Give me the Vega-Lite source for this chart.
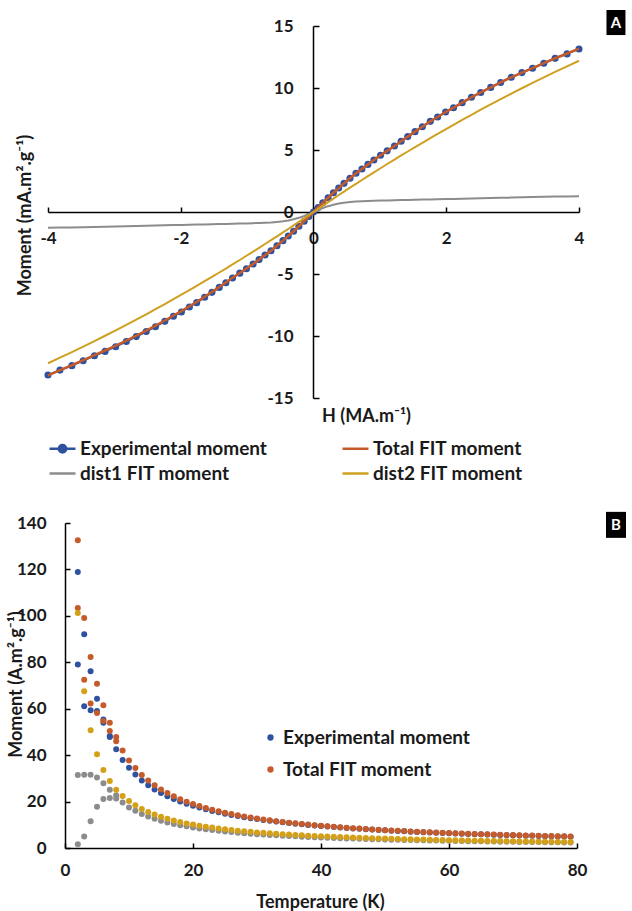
{
  "$schema": "https://vega.github.io/schema/vega-lite/v6.json",
  "padding": {"left": 7, "top": 10, "right": 0, "bottom": 0},
  "background": "white",
  "spacing": 27,
  "config": {
    "view": {"stroke": null},
    "font": "Lato",
    "axis": {"grid": false, "domain": true, "domainColor": "#000000", "domainWidth": 1.5, "labelFont": "Lato", "labelFontSize": 17, "labelFontWeight": "bold", "labelColor": "#1a1a1a", "titleFont": "Lato", "titleFontSize": 18, "titleFontWeight": "bold", "titleColor": "#1a1a1a", "tickColor": "#000000", "tickWidth": 1.5, "labelFlush": false, "labelOverlap": false}
  },
  "resolve": {"scale": {"color": "independent", "x": "independent", "y": "independent"}, "legend": {"color": "independent"}},
  "datasets": {
    "hyst": [
      {"H":-4,"M":-13.15,"s":"exp"},{"H":-3.82,"M":-12.75,"s":"exp"},{"H":-3.64,"M":-12.39,"s":"exp"},{"H":-3.47,"M":-11.99,"s":"exp"},{"H":-3.3,"M":-11.59,"s":"exp"},{"H":-3.14,"M":-11.24,"s":"exp"},{"H":-2.98,"M":-10.86,"s":"exp"},{"H":-2.82,"M":-10.45,"s":"exp"},{"H":-2.67,"M":-10.05,"s":"exp"},{"H":-2.52,"M":-9.64,"s":"exp"},{"H":-2.38,"M":-9.25,"s":"exp"},{"H":-2.24,"M":-8.82,"s":"exp"},{"H":-2.11,"M":-8.41,"s":"exp"},{"H":-1.99,"M":-8.06,"s":"exp"},{"H":-1.87,"M":-7.66,"s":"exp"},{"H":-1.76,"M":-7.31,"s":"exp"},{"H":-1.64,"M":-6.88,"s":"exp"},{"H":-1.53,"M":-6.48,"s":"exp"},{"H":-1.42,"M":-6.08,"s":"exp"},{"H":-1.32,"M":-5.7,"s":"exp"},{"H":-1.22,"M":-5.32,"s":"exp"},{"H":-1.11,"M":-4.93,"s":"exp"},{"H":-1.01,"M":-4.57,"s":"exp"},{"H":-0.91,"M":-4.2,"s":"exp"},{"H":-0.82,"M":-3.84,"s":"exp"},{"H":-0.73,"M":-3.47,"s":"exp"},{"H":-0.64,"M":-3.12,"s":"exp"},{"H":-0.55,"M":-2.72,"s":"exp"},{"H":-0.46,"M":-2.31,"s":"exp"},{"H":-0.38,"M":-1.93,"s":"exp"},{"H":-0.3,"M":-1.55,"s":"exp"},{"H":-0.22,"M":-1.15,"s":"exp"},{"H":-0.14,"M":-0.74,"s":"exp"},{"H":-0.07,"M":-0.37,"s":"exp"},{"H":0,"M":0,"s":"exp"},{"H":0.07,"M":0.37,"s":"exp"},{"H":0.14,"M":0.74,"s":"exp"},{"H":0.22,"M":1.15,"s":"exp"},{"H":0.3,"M":1.55,"s":"exp"},{"H":0.38,"M":1.93,"s":"exp"},{"H":0.46,"M":2.31,"s":"exp"},{"H":0.55,"M":2.72,"s":"exp"},{"H":0.64,"M":3.12,"s":"exp"},{"H":0.73,"M":3.47,"s":"exp"},{"H":0.82,"M":3.84,"s":"exp"},{"H":0.91,"M":4.2,"s":"exp"},{"H":1.01,"M":4.57,"s":"exp"},{"H":1.11,"M":4.93,"s":"exp"},{"H":1.22,"M":5.32,"s":"exp"},{"H":1.32,"M":5.7,"s":"exp"},{"H":1.42,"M":6.08,"s":"exp"},{"H":1.53,"M":6.48,"s":"exp"},{"H":1.64,"M":6.88,"s":"exp"},{"H":1.76,"M":7.31,"s":"exp"},{"H":1.87,"M":7.66,"s":"exp"},{"H":1.99,"M":8.06,"s":"exp"},{"H":2.11,"M":8.41,"s":"exp"},{"H":2.24,"M":8.82,"s":"exp"},{"H":2.38,"M":9.25,"s":"exp"},{"H":2.52,"M":9.64,"s":"exp"},{"H":2.67,"M":10.05,"s":"exp"},{"H":2.82,"M":10.45,"s":"exp"},{"H":2.98,"M":10.86,"s":"exp"},{"H":3.14,"M":11.24,"s":"exp"},{"H":3.3,"M":11.59,"s":"exp"},{"H":3.47,"M":11.99,"s":"exp"},{"H":3.64,"M":12.39,"s":"exp"},{"H":3.82,"M":12.75,"s":"exp"},{"H":4,"M":13.15,"s":"exp"},
      {"H":-4,"M":-13.18,"s":"fit"},{"H":-3.82,"M":-12.76,"s":"fit"},{"H":-3.64,"M":-12.36,"s":"fit"},{"H":-3.47,"M":-11.95,"s":"fit"},{"H":-3.3,"M":-11.54,"s":"fit"},{"H":-3.14,"M":-11.17,"s":"fit"},{"H":-2.98,"M":-10.78,"s":"fit"},{"H":-2.82,"M":-10.37,"s":"fit"},{"H":-2.67,"M":-9.97,"s":"fit"},{"H":-2.52,"M":-9.56,"s":"fit"},{"H":-2.38,"M":-9.17,"s":"fit"},{"H":-2.24,"M":-8.75,"s":"fit"},{"H":-2.11,"M":-8.35,"s":"fit"},{"H":-1.99,"M":-7.99,"s":"fit"},{"H":-1.87,"M":-7.6,"s":"fit"},{"H":-1.76,"M":-7.25,"s":"fit"},{"H":-1.64,"M":-6.83,"s":"fit"},{"H":-1.53,"M":-6.44,"s":"fit"},{"H":-1.42,"M":-6.05,"s":"fit"},{"H":-1.32,"M":-5.68,"s":"fit"},{"H":-1.22,"M":-5.3,"s":"fit"},{"H":-1.11,"M":-4.92,"s":"fit"},{"H":-1.01,"M":-4.56,"s":"fit"},{"H":-0.91,"M":-4.2,"s":"fit"},{"H":-0.82,"M":-3.84,"s":"fit"},{"H":-0.73,"M":-3.47,"s":"fit"},{"H":-0.64,"M":-3.12,"s":"fit"},{"H":-0.55,"M":-2.72,"s":"fit"},{"H":-0.46,"M":-2.31,"s":"fit"},{"H":-0.38,"M":-1.93,"s":"fit"},{"H":-0.3,"M":-1.55,"s":"fit"},{"H":-0.22,"M":-1.15,"s":"fit"},{"H":-0.14,"M":-0.74,"s":"fit"},{"H":-0.07,"M":-0.37,"s":"fit"},{"H":0,"M":0,"s":"fit"},{"H":0.07,"M":0.37,"s":"fit"},{"H":0.14,"M":0.74,"s":"fit"},{"H":0.22,"M":1.15,"s":"fit"},{"H":0.3,"M":1.55,"s":"fit"},{"H":0.38,"M":1.93,"s":"fit"},{"H":0.46,"M":2.31,"s":"fit"},{"H":0.55,"M":2.72,"s":"fit"},{"H":0.64,"M":3.12,"s":"fit"},{"H":0.73,"M":3.47,"s":"fit"},{"H":0.82,"M":3.84,"s":"fit"},{"H":0.91,"M":4.2,"s":"fit"},{"H":1.01,"M":4.57,"s":"fit"},{"H":1.11,"M":4.93,"s":"fit"},{"H":1.22,"M":5.32,"s":"fit"},{"H":1.32,"M":5.7,"s":"fit"},{"H":1.42,"M":6.08,"s":"fit"},{"H":1.53,"M":6.48,"s":"fit"},{"H":1.64,"M":6.88,"s":"fit"},{"H":1.76,"M":7.31,"s":"fit"},{"H":1.87,"M":7.66,"s":"fit"},{"H":1.99,"M":8.06,"s":"fit"},{"H":2.11,"M":8.41,"s":"fit"},{"H":2.24,"M":8.82,"s":"fit"},{"H":2.38,"M":9.25,"s":"fit"},{"H":2.52,"M":9.64,"s":"fit"},{"H":2.67,"M":10.05,"s":"fit"},{"H":2.82,"M":10.45,"s":"fit"},{"H":2.98,"M":10.86,"s":"fit"},{"H":3.14,"M":11.24,"s":"fit"},{"H":3.3,"M":11.6,"s":"fit"},{"H":3.47,"M":12.0,"s":"fit"},{"H":3.64,"M":12.4,"s":"fit"},{"H":3.82,"M":12.78,"s":"fit"},{"H":4,"M":13.18,"s":"fit"},
      {"H":-4,"M":-1.28,"s":"d1"},{"H":-3.82,"M":-1.26,"s":"d1"},{"H":-3.64,"M":-1.24,"s":"d1"},{"H":-3.47,"M":-1.22,"s":"d1"},{"H":-3.3,"M":-1.2,"s":"d1"},{"H":-3.14,"M":-1.18,"s":"d1"},{"H":-2.98,"M":-1.16,"s":"d1"},{"H":-2.82,"M":-1.14,"s":"d1"},{"H":-2.67,"M":-1.12,"s":"d1"},{"H":-2.52,"M":-1.1,"s":"d1"},{"H":-2.38,"M":-1.09,"s":"d1"},{"H":-2.24,"M":-1.07,"s":"d1"},{"H":-2.11,"M":-1.05,"s":"d1"},{"H":-1.99,"M":-1.04,"s":"d1"},{"H":-1.87,"M":-1.02,"s":"d1"},{"H":-1.76,"M":-1.01,"s":"d1"},{"H":-1.64,"M":-1.0,"s":"d1"},{"H":-1.53,"M":-0.98,"s":"d1"},{"H":-1.42,"M":-0.97,"s":"d1"},{"H":-1.32,"M":-0.96,"s":"d1"},{"H":-1.22,"M":-0.95,"s":"d1"},{"H":-1.11,"M":-0.93,"s":"d1"},{"H":-1.01,"M":-0.92,"s":"d1"},{"H":-0.91,"M":-0.9,"s":"d1"},{"H":-0.82,"M":-0.88,"s":"d1"},{"H":-0.73,"M":-0.86,"s":"d1"},{"H":-0.64,"M":-0.84,"s":"d1"},{"H":-0.55,"M":-0.8,"s":"d1"},{"H":-0.46,"M":-0.75,"s":"d1"},{"H":-0.38,"M":-0.68,"s":"d1"},{"H":-0.3,"M":-0.59,"s":"d1"},{"H":-0.22,"M":-0.47,"s":"d1"},{"H":-0.14,"M":-0.32,"s":"d1"},{"H":-0.07,"M":-0.17,"s":"d1"},{"H":0,"M":0,"s":"d1"},{"H":0.07,"M":0.17,"s":"d1"},{"H":0.14,"M":0.32,"s":"d1"},{"H":0.22,"M":0.47,"s":"d1"},{"H":0.3,"M":0.59,"s":"d1"},{"H":0.38,"M":0.68,"s":"d1"},{"H":0.46,"M":0.75,"s":"d1"},{"H":0.55,"M":0.8,"s":"d1"},{"H":0.64,"M":0.84,"s":"d1"},{"H":0.73,"M":0.86,"s":"d1"},{"H":0.82,"M":0.88,"s":"d1"},{"H":0.91,"M":0.9,"s":"d1"},{"H":1.01,"M":0.92,"s":"d1"},{"H":1.11,"M":0.93,"s":"d1"},{"H":1.22,"M":0.95,"s":"d1"},{"H":1.32,"M":0.96,"s":"d1"},{"H":1.42,"M":0.97,"s":"d1"},{"H":1.53,"M":0.98,"s":"d1"},{"H":1.64,"M":1.0,"s":"d1"},{"H":1.76,"M":1.01,"s":"d1"},{"H":1.87,"M":1.02,"s":"d1"},{"H":1.99,"M":1.04,"s":"d1"},{"H":2.11,"M":1.05,"s":"d1"},{"H":2.24,"M":1.07,"s":"d1"},{"H":2.38,"M":1.09,"s":"d1"},{"H":2.52,"M":1.1,"s":"d1"},{"H":2.67,"M":1.12,"s":"d1"},{"H":2.82,"M":1.14,"s":"d1"},{"H":2.98,"M":1.16,"s":"d1"},{"H":3.14,"M":1.18,"s":"d1"},{"H":3.3,"M":1.2,"s":"d1"},{"H":3.47,"M":1.22,"s":"d1"},{"H":3.64,"M":1.24,"s":"d1"},{"H":3.82,"M":1.26,"s":"d1"},{"H":4,"M":1.28,"s":"d1"},
      {"H":-4,"M":-12.2,"s":"d2"},{"H":-3.82,"M":-11.75,"s":"d2"},{"H":-3.64,"M":-11.3,"s":"d2"},{"H":-3.47,"M":-10.86,"s":"d2"},{"H":-3.3,"M":-10.41,"s":"d2"},{"H":-3.14,"M":-9.98,"s":"d2"},{"H":-2.98,"M":-9.55,"s":"d2"},{"H":-2.82,"M":-9.1,"s":"d2"},{"H":-2.67,"M":-8.68,"s":"d2"},{"H":-2.52,"M":-8.25,"s":"d2"},{"H":-2.38,"M":-7.84,"s":"d2"},{"H":-2.24,"M":-7.42,"s":"d2"},{"H":-2.11,"M":-7.03,"s":"d2"},{"H":-1.99,"M":-6.67,"s":"d2"},{"H":-1.87,"M":-6.3,"s":"d2"},{"H":-1.76,"M":-5.96,"s":"d2"},{"H":-1.64,"M":-5.58,"s":"d2"},{"H":-1.53,"M":-5.23,"s":"d2"},{"H":-1.42,"M":-4.88,"s":"d2"},{"H":-1.32,"M":-4.56,"s":"d2"},{"H":-1.22,"M":-4.23,"s":"d2"},{"H":-1.11,"M":-3.87,"s":"d2"},{"H":-1.01,"M":-3.53,"s":"d2"},{"H":-0.91,"M":-3.2,"s":"d2"},{"H":-0.82,"M":-2.89,"s":"d2"},{"H":-0.73,"M":-2.58,"s":"d2"},{"H":-0.64,"M":-2.27,"s":"d2"},{"H":-0.55,"M":-1.96,"s":"d2"},{"H":-0.46,"M":-1.65,"s":"d2"},{"H":-0.38,"M":-1.37,"s":"d2"},{"H":-0.3,"M":-1.08,"s":"d2"},{"H":-0.22,"M":-0.8,"s":"d2"},{"H":-0.14,"M":-0.51,"s":"d2"},{"H":-0.07,"M":-0.25,"s":"d2"},{"H":0,"M":0,"s":"d2"},{"H":0.07,"M":0.25,"s":"d2"},{"H":0.14,"M":0.51,"s":"d2"},{"H":0.22,"M":0.8,"s":"d2"},{"H":0.3,"M":1.08,"s":"d2"},{"H":0.38,"M":1.37,"s":"d2"},{"H":0.46,"M":1.65,"s":"d2"},{"H":0.55,"M":1.96,"s":"d2"},{"H":0.64,"M":2.27,"s":"d2"},{"H":0.73,"M":2.58,"s":"d2"},{"H":0.82,"M":2.89,"s":"d2"},{"H":0.91,"M":3.2,"s":"d2"},{"H":1.01,"M":3.53,"s":"d2"},{"H":1.11,"M":3.87,"s":"d2"},{"H":1.22,"M":4.23,"s":"d2"},{"H":1.32,"M":4.56,"s":"d2"},{"H":1.42,"M":4.88,"s":"d2"},{"H":1.53,"M":5.23,"s":"d2"},{"H":1.64,"M":5.58,"s":"d2"},{"H":1.76,"M":5.96,"s":"d2"},{"H":1.87,"M":6.3,"s":"d2"},{"H":1.99,"M":6.67,"s":"d2"},{"H":2.11,"M":7.03,"s":"d2"},{"H":2.24,"M":7.42,"s":"d2"},{"H":2.38,"M":7.84,"s":"d2"},{"H":2.52,"M":8.25,"s":"d2"},{"H":2.67,"M":8.68,"s":"d2"},{"H":2.82,"M":9.1,"s":"d2"},{"H":2.98,"M":9.55,"s":"d2"},{"H":3.14,"M":9.98,"s":"d2"},{"H":3.3,"M":10.41,"s":"d2"},{"H":3.47,"M":10.86,"s":"d2"},{"H":3.64,"M":11.3,"s":"d2"},{"H":3.82,"M":11.75,"s":"d2"},{"H":4,"M":12.2,"s":"d2"}
    ],
    "temp": [
      {"T":2,"m":118.9,"s":"exp"},{"T":3,"m":92.1,"s":"exp"},{"T":4,"m":76.1,"s":"exp"},{"T":5,"m":64.3,"s":"exp"},{"T":6,"m":55.4,"s":"exp"},{"T":7,"m":48.3,"s":"exp"},{"T":8,"m":42.5,"s":"exp"},
      {"T":2,"m":79.1,"s":"exp"},{"T":3,"m":61.1,"s":"exp"},{"T":4,"m":59.3,"s":"exp"},{"T":5,"m":59.0,"s":"exp"},{"T":6,"m":54.0,"s":"exp"},{"T":7,"m":47.8,"s":"exp"},
      {"T":9,"m":37.9,"s":"exp"},{"T":10,"m":34.6,"s":"exp"},{"T":11,"m":31.7,"s":"exp"},{"T":12,"m":29.1,"s":"exp"},{"T":13,"m":27.0,"s":"exp"},{"T":14,"m":25.2,"s":"exp"},{"T":15,"m":23.7,"s":"exp"},{"T":16,"m":22.3,"s":"exp"},{"T":17,"m":21.1,"s":"exp"},{"T":18,"m":20.0,"s":"exp"},{"T":19,"m":19.05,"s":"exp"},{"T":20,"m":18.2,"s":"exp"},{"T":21,"m":17.4,"s":"exp"},{"T":22,"m":16.65,"s":"exp"},{"T":23,"m":15.95,"s":"exp"},{"T":24,"m":15.35,"s":"exp"},{"T":25,"m":14.8,"s":"exp"},{"T":26,"m":14.25,"s":"exp"},{"T":27,"m":13.75,"s":"exp"},{"T":28,"m":13.3,"s":"exp"},{"T":29,"m":12.85,"s":"exp"},{"T":30,"m":12.45,"s":"exp"},{"T":31,"m":12.08,"s":"exp"},{"T":32,"m":11.72,"s":"exp"},{"T":33,"m":11.38,"s":"exp"},{"T":34,"m":11.07,"s":"exp"},{"T":35,"m":10.77,"s":"exp"},{"T":36,"m":10.49,"s":"exp"},{"T":37,"m":10.22,"s":"exp"},{"T":38,"m":9.96,"s":"exp"},{"T":39,"m":9.72,"s":"exp"},{"T":40,"m":9.49,"s":"exp"},{"T":41,"m":9.26,"s":"exp"},{"T":42,"m":9.04,"s":"exp"},{"T":43,"m":8.83,"s":"exp"},{"T":44,"m":8.63,"s":"exp"},{"T":45,"m":8.44,"s":"exp"},{"T":46,"m":8.26,"s":"exp"},{"T":47,"m":8.09,"s":"exp"},{"T":48,"m":7.92,"s":"exp"},{"T":49,"m":7.76,"s":"exp"},{"T":50,"m":7.61,"s":"exp"},{"T":51,"m":7.46,"s":"exp"},{"T":52,"m":7.32,"s":"exp"},{"T":53,"m":7.19,"s":"exp"},{"T":54,"m":7.05,"s":"exp"},{"T":55,"m":6.93,"s":"exp"},{"T":56,"m":6.81,"s":"exp"},{"T":57,"m":6.69,"s":"exp"},{"T":58,"m":6.58,"s":"exp"},{"T":59,"m":6.47,"s":"exp"},{"T":60,"m":6.36,"s":"exp"},{"T":61,"m":6.26,"s":"exp"},{"T":62,"m":6.16,"s":"exp"},{"T":63,"m":6.06,"s":"exp"},{"T":64,"m":5.97,"s":"exp"},{"T":65,"m":5.88,"s":"exp"},{"T":66,"m":5.79,"s":"exp"},{"T":67,"m":5.71,"s":"exp"},{"T":68,"m":5.62,"s":"exp"},{"T":69,"m":5.54,"s":"exp"},{"T":70,"m":5.47,"s":"exp"},{"T":71,"m":5.39,"s":"exp"},{"T":72,"m":5.32,"s":"exp"},{"T":73,"m":5.25,"s":"exp"},{"T":74,"m":5.18,"s":"exp"},{"T":75,"m":5.11,"s":"exp"},{"T":76,"m":5.04,"s":"exp"},{"T":77,"m":4.98,"s":"exp"},{"T":78,"m":4.92,"s":"exp"},{"T":79,"m":4.86,"s":"exp"},
      {"T":2,"m":132.6,"s":"fit"},{"T":3,"m":99.1,"s":"fit"},{"T":4,"m":82.3,"s":"fit"},{"T":5,"m":70.8,"s":"fit"},{"T":6,"m":61.5,"s":"fit"},{"T":7,"m":54.0,"s":"fit"},{"T":8,"m":47.8,"s":"fit"},
      {"T":2,"m":103.4,"s":"fit"},{"T":3,"m":72.5,"s":"fit"},{"T":4,"m":62.2,"s":"fit"},{"T":5,"m":58.2,"s":"fit"},{"T":6,"m":54.7,"s":"fit"},{"T":7,"m":50.4,"s":"fit"},{"T":8,"m":46.0,"s":"fit"},
      {"T":9,"m":42.0,"s":"fit"},{"T":10,"m":37.7,"s":"fit"},{"T":11,"m":34.5,"s":"fit"},{"T":12,"m":31.45,"s":"fit"},{"T":13,"m":29.05,"s":"fit"},{"T":14,"m":26.99,"s":"fit"},{"T":15,"m":25.2,"s":"fit"},{"T":16,"m":23.64,"s":"fit"},{"T":17,"m":22.26,"s":"fit"},{"T":18,"m":21.03,"s":"fit"},{"T":19,"m":19.94,"s":"fit"},{"T":20,"m":18.95,"s":"fit"},{"T":21,"m":18.06,"s":"fit"},{"T":22,"m":17.25,"s":"fit"},{"T":23,"m":16.5,"s":"fit"},{"T":24,"m":15.83,"s":"fit"},{"T":25,"m":15.2,"s":"fit"},{"T":26,"m":14.62,"s":"fit"},{"T":27,"m":14.09,"s":"fit"},{"T":28,"m":13.59,"s":"fit"},{"T":29,"m":13.13,"s":"fit"},{"T":30,"m":12.7,"s":"fit"},{"T":31,"m":12.3,"s":"fit"},{"T":32,"m":11.92,"s":"fit"},{"T":33,"m":11.56,"s":"fit"},{"T":34,"m":11.23,"s":"fit"},{"T":35,"m":10.91,"s":"fit"},{"T":36,"m":10.62,"s":"fit"},{"T":37,"m":10.34,"s":"fit"},{"T":38,"m":10.07,"s":"fit"},{"T":39,"m":9.82,"s":"fit"},{"T":40,"m":9.58,"s":"fit"},{"T":41,"m":9.35,"s":"fit"},{"T":42,"m":9.13,"s":"fit"},{"T":43,"m":8.92,"s":"fit"},{"T":44,"m":8.72,"s":"fit"},{"T":45,"m":8.53,"s":"fit"},{"T":46,"m":8.35,"s":"fit"},{"T":47,"m":8.18,"s":"fit"},{"T":48,"m":8.01,"s":"fit"},{"T":49,"m":7.85,"s":"fit"},{"T":50,"m":7.7,"s":"fit"},{"T":51,"m":7.55,"s":"fit"},{"T":52,"m":7.41,"s":"fit"},{"T":53,"m":7.28,"s":"fit"},{"T":54,"m":7.14,"s":"fit"},{"T":55,"m":7.02,"s":"fit"},{"T":56,"m":6.9,"s":"fit"},{"T":57,"m":6.78,"s":"fit"},{"T":58,"m":6.67,"s":"fit"},{"T":59,"m":6.56,"s":"fit"},{"T":60,"m":6.45,"s":"fit"},{"T":61,"m":6.35,"s":"fit"},{"T":62,"m":6.25,"s":"fit"},{"T":63,"m":6.15,"s":"fit"},{"T":64,"m":6.06,"s":"fit"},{"T":65,"m":5.97,"s":"fit"},{"T":66,"m":5.88,"s":"fit"},{"T":67,"m":5.8,"s":"fit"},{"T":68,"m":5.71,"s":"fit"},{"T":69,"m":5.63,"s":"fit"},{"T":70,"m":5.56,"s":"fit"},{"T":71,"m":5.48,"s":"fit"},{"T":72,"m":5.41,"s":"fit"},{"T":73,"m":5.34,"s":"fit"},{"T":74,"m":5.27,"s":"fit"},{"T":75,"m":5.2,"s":"fit"},{"T":76,"m":5.13,"s":"fit"},{"T":77,"m":5.07,"s":"fit"},{"T":78,"m":5.01,"s":"fit"},{"T":79,"m":4.95,"s":"fit"},
      {"T":2,"m":31.4,"s":"d1"},{"T":3,"m":31.6,"s":"d1"},{"T":4,"m":31.6,"s":"d1"},{"T":5,"m":30.4,"s":"d1"},{"T":6,"m":27.9,"s":"d1"},{"T":7,"m":25.1,"s":"d1"},{"T":8,"m":22.7,"s":"d1"},
      {"T":2,"m":1.6,"s":"d1"},{"T":3,"m":5.0,"s":"d1"},{"T":4,"m":11.5,"s":"d1"},{"T":5,"m":17.8,"s":"d1"},{"T":6,"m":21.1,"s":"d1"},{"T":7,"m":21.5,"s":"d1"},{"T":8,"m":21.3,"s":"d1"},
      {"T":9,"m":19.6,"s":"d1"},{"T":10,"m":17.5,"s":"d1"},{"T":11,"m":16.0,"s":"d1"},{"T":12,"m":14.65,"s":"d1"},{"T":13,"m":13.55,"s":"d1"},{"T":14,"m":12.6,"s":"d1"},{"T":15,"m":11.7,"s":"d1"},{"T":16,"m":11.0,"s":"d1"},{"T":17,"m":10.35,"s":"d1"},{"T":18,"m":9.8,"s":"d1"},{"T":19,"m":9.35,"s":"d1"},{"T":20,"m":8.85,"s":"d1"},{"T":21,"m":8.45,"s":"d1"},{"T":22,"m":8.07,"s":"d1"},{"T":23,"m":7.72,"s":"d1"},{"T":24,"m":7.41,"s":"d1"},{"T":25,"m":7.12,"s":"d1"},{"T":26,"m":6.85,"s":"d1"},{"T":27,"m":6.61,"s":"d1"},{"T":28,"m":6.38,"s":"d1"},{"T":29,"m":6.16,"s":"d1"},{"T":30,"m":5.97,"s":"d1"},{"T":31,"m":5.78,"s":"d1"},{"T":32,"m":5.61,"s":"d1"},{"T":33,"m":5.44,"s":"d1"},{"T":34,"m":5.29,"s":"d1"},{"T":35,"m":5.14,"s":"d1"},{"T":36,"m":5.01,"s":"d1"},{"T":37,"m":4.88,"s":"d1"},{"T":38,"m":4.75,"s":"d1"},{"T":39,"m":4.64,"s":"d1"},{"T":40,"m":4.53,"s":"d1"},{"T":41,"m":4.42,"s":"d1"},{"T":42,"m":4.32,"s":"d1"},{"T":43,"m":4.22,"s":"d1"},{"T":44,"m":4.13,"s":"d1"},{"T":45,"m":4.04,"s":"d1"},{"T":46,"m":3.96,"s":"d1"},{"T":47,"m":3.88,"s":"d1"},{"T":48,"m":3.8,"s":"d1"},{"T":49,"m":3.73,"s":"d1"},{"T":50,"m":3.66,"s":"d1"},{"T":51,"m":3.59,"s":"d1"},{"T":52,"m":3.53,"s":"d1"},{"T":53,"m":3.47,"s":"d1"},{"T":54,"m":3.4,"s":"d1"},{"T":55,"m":3.35,"s":"d1"},{"T":56,"m":3.29,"s":"d1"},{"T":57,"m":3.24,"s":"d1"},{"T":58,"m":3.19,"s":"d1"},{"T":59,"m":3.14,"s":"d1"},{"T":60,"m":3.08,"s":"d1"},{"T":61,"m":3.04,"s":"d1"},{"T":62,"m":2.99,"s":"d1"},{"T":63,"m":2.94,"s":"d1"},{"T":64,"m":2.9,"s":"d1"},{"T":65,"m":2.86,"s":"d1"},{"T":66,"m":2.82,"s":"d1"},{"T":67,"m":2.79,"s":"d1"},{"T":68,"m":2.74,"s":"d1"},{"T":69,"m":2.7,"s":"d1"},{"T":70,"m":2.67,"s":"d1"},{"T":71,"m":2.63,"s":"d1"},{"T":72,"m":2.6,"s":"d1"},{"T":73,"m":2.57,"s":"d1"},{"T":74,"m":2.54,"s":"d1"},{"T":75,"m":2.51,"s":"d1"},{"T":76,"m":2.47,"s":"d1"},{"T":77,"m":2.45,"s":"d1"},{"T":78,"m":2.42,"s":"d1"},{"T":79,"m":2.39,"s":"d1"},
      {"T":2,"m":101.2,"s":"d2"},{"T":3,"m":67.5,"s":"d2"},{"T":4,"m":50.7,"s":"d2"},{"T":5,"m":40.4,"s":"d2"},{"T":6,"m":33.6,"s":"d2"},{"T":7,"m":28.9,"s":"d2"},{"T":8,"m":25.1,"s":"d2"},{"T":9,"m":22.4,"s":"d2"},{"T":10,"m":20.2,"s":"d2"},{"T":11,"m":18.4,"s":"d2"},{"T":12,"m":16.8,"s":"d2"},{"T":13,"m":15.5,"s":"d2"},{"T":14,"m":14.4,"s":"d2"},{"T":15,"m":13.5,"s":"d2"},{"T":16,"m":12.6,"s":"d2"},{"T":17,"m":11.9,"s":"d2"},{"T":18,"m":11.2,"s":"d2"},{"T":19,"m":10.6,"s":"d2"},{"T":20,"m":10.1,"s":"d2"},{"T":21,"m":9.62,"s":"d2"},{"T":22,"m":9.18,"s":"d2"},{"T":23,"m":8.78,"s":"d2"},{"T":24,"m":8.42,"s":"d2"},{"T":25,"m":8.08,"s":"d2"},{"T":26,"m":7.77,"s":"d2"},{"T":27,"m":7.48,"s":"d2"},{"T":28,"m":7.21,"s":"d2"},{"T":29,"m":6.97,"s":"d2"},{"T":30,"m":6.73,"s":"d2"},{"T":31,"m":6.52,"s":"d2"},{"T":32,"m":6.31,"s":"d2"},{"T":33,"m":6.12,"s":"d2"},{"T":34,"m":5.94,"s":"d2"},{"T":35,"m":5.77,"s":"d2"},{"T":36,"m":5.61,"s":"d2"},{"T":37,"m":5.46,"s":"d2"},{"T":38,"m":5.32,"s":"d2"},{"T":39,"m":5.18,"s":"d2"},{"T":40,"m":5.05,"s":"d2"},{"T":41,"m":4.93,"s":"d2"},{"T":42,"m":4.81,"s":"d2"},{"T":43,"m":4.7,"s":"d2"},{"T":44,"m":4.59,"s":"d2"},{"T":45,"m":4.49,"s":"d2"},{"T":46,"m":4.39,"s":"d2"},{"T":47,"m":4.3,"s":"d2"},{"T":48,"m":4.21,"s":"d2"},{"T":49,"m":4.12,"s":"d2"},{"T":50,"m":4.04,"s":"d2"},{"T":51,"m":3.96,"s":"d2"},{"T":52,"m":3.88,"s":"d2"},{"T":53,"m":3.81,"s":"d2"},{"T":54,"m":3.74,"s":"d2"},{"T":55,"m":3.67,"s":"d2"},{"T":56,"m":3.61,"s":"d2"},{"T":57,"m":3.54,"s":"d2"},{"T":58,"m":3.48,"s":"d2"},{"T":59,"m":3.42,"s":"d2"},{"T":60,"m":3.37,"s":"d2"},{"T":61,"m":3.31,"s":"d2"},{"T":62,"m":3.26,"s":"d2"},{"T":63,"m":3.21,"s":"d2"},{"T":64,"m":3.16,"s":"d2"},{"T":65,"m":3.11,"s":"d2"},{"T":66,"m":3.06,"s":"d2"},{"T":67,"m":3.01,"s":"d2"},{"T":68,"m":2.97,"s":"d2"},{"T":69,"m":2.93,"s":"d2"},{"T":70,"m":2.89,"s":"d2"},{"T":71,"m":2.85,"s":"d2"},{"T":72,"m":2.81,"s":"d2"},{"T":73,"m":2.77,"s":"d2"},{"T":74,"m":2.73,"s":"d2"},{"T":75,"m":2.69,"s":"d2"},{"T":76,"m":2.66,"s":"d2"},{"T":77,"m":2.62,"s":"d2"},{"T":78,"m":2.59,"s":"d2"},{"T":79,"m":2.56,"s":"d2"}
    ]
  },
  "vconcat": [
    {
      "width": 578,
      "height": 388,
      "data": {"name": "hyst"},
      "layer": [
        {
          "transform": [{"filter": "datum.s === 'exp'"}],
          "mark": {"type": "line", "strokeWidth": 2},
          "encoding": {
            "x": {"field": "H", "type": "quantitative", "scale": {"domain": [-4, 4], "range": [0, 531], "nice": false, "zero": false},
              "axis": {"orient": "bottom", "offset": -186, "values": [-4, -2, 0, 2, 4], "labelExpr": "datum.value + ''", "tickSize": -5, "labelPadding": 23, "title": "H (MA.m⁻¹)", "titleX": 318, "titleY": 204, "titleAlign": "center", "titleBaseline": "middle", "titleAngle": 0}},
            "y": {"field": "M", "type": "quantitative", "scale": {"domain": [-15, 15], "range": [388, 16], "nice": false, "zero": false},
              "axis": {"orient": "left", "offset": -265, "values": [-15, -10, -5, 0, 5, 10, 15], "labelExpr": "datum.value + ''", "tickSize": -6, "labelPadding": 26, "title": "Moment (mA.m².g⁻¹)", "titleX": -283, "titleY": 205, "titleAngle": 270, "titleAlign": "center", "titleBaseline": "alphabetic"}},
            "color": {"field": "s", "type": "nominal",
              "scale": {"domain": ["exp", "fit", "d1", "d2"], "range": ["#2f52a0", "#c55a2a", "#8c8c8c", "#cfa020"]},
              "legend": {
                "orient": "none", "legendX": 0, "legendY": 424, "columns": 2, "direction": "horizontal",
                "title": null, "padding": 0, "symbolType": "stroke", "symbolSize": 676, "symbolStrokeWidth": 2.5,
                "labelFont": "Lato", "labelFontSize": 19, "labelFontWeight": "bold", "labelColor": "#1a1a1a",
                "labelOffset": 3, "columnPadding": 70, "rowPadding": 0, "labelLimit": 400,
                "labelExpr": "datum.value === 'exp' ? 'Experimental moment' : datum.value === 'fit' ? 'Total FIT moment' : datum.value === 'd1' ? '\u00a0dist1 FIT moment' : 'dist2 FIT moment'",
                "encode": {"symbols": {"update": {
                  "shape": {"signal": "datum.value === 'exp' ? 'M-1,0H1M-0.28,0A0.28,0.28,0,1,1,0.28,0A0.28,0.28,0,1,1,-0.28,0Z' : 'stroke'"},
                  "fill": {"signal": "datum.value === 'exp' ? '#2f52a0' : 'transparent'"}
                }}}
              }
            }
          }
        },
        {
          "transform": [{"filter": "datum.s === 'exp'"}],
          "mark": {"type": "circle", "size": 50, "opacity": 1, "color": "#2f52a0"},
          "encoding": {"x": {"field": "H", "type": "quantitative"}, "y": {"field": "M", "type": "quantitative"}}
        },
        {
          "transform": [{"filter": "datum.s === 'fit'"}],
          "mark": {"type": "line", "strokeWidth": 2.5},
          "encoding": {"x": {"field": "H", "type": "quantitative"}, "y": {"field": "M", "type": "quantitative"}, "color": {"field": "s", "type": "nominal"}}
        },
        {
          "transform": [{"filter": "datum.s === 'd1'"}],
          "mark": {"type": "line", "strokeWidth": 2},
          "encoding": {"x": {"field": "H", "type": "quantitative"}, "y": {"field": "M", "type": "quantitative"}, "color": {"field": "s", "type": "nominal"}}
        },
        {
          "transform": [{"filter": "datum.s === 'd2'"}],
          "mark": {"type": "line", "strokeWidth": 2},
          "encoding": {"x": {"field": "H", "type": "quantitative"}, "y": {"field": "M", "type": "quantitative"}, "color": {"field": "s", "type": "nominal"}}
        },
        {
          "transform": [{"filter": "datum.s === 'exp' && datum.H === 0"}],
          "mark": {"type": "rect", "color": "#000000"},
          "encoding": {"x": {"datum": 4.414, "type": "quantitative"}, "x2": {"datum": 4.7}, "y": {"datum": 16.29, "type": "quantitative"}, "y2": {"datum": 14.27}}
        },
        {
          "transform": [{"filter": "datum.s === 'exp' && datum.H === 0"}],
          "mark": {"type": "text", "color": "#ffffff", "font": "Lato", "fontSize": 15, "fontWeight": "bold", "align": "center", "baseline": "middle"},
          "encoding": {"x": {"datum": 4.557, "type": "quantitative"}, "y": {"datum": 15.28, "type": "quantitative"}, "text": {"value": "A"}}
        }
      ]
    },
    {
      "width": 578,
      "height": 336,
      "data": {"name": "temp"},
      "layer": [
        {
          "mark": {"type": "circle", "size": 36, "opacity": 1},
          "encoding": {
            "x": {"field": "T", "type": "quantitative", "scale": {"domain": [0, 80], "range": [17, 529], "nice": false, "zero": false},
              "axis": {"orient": "bottom", "values": [0, 20, 40, 60, 80], "tickSize": -5, "labelPadding": 19, "title": "Temperature (K)", "titleX": 272, "titleY": 54, "titleAlign": "center", "titleBaseline": "middle"}},
            "y": {"field": "m", "type": "quantitative", "scale": {"domain": [0, 140], "range": [336, 11], "nice": false, "zero": false},
              "axis": {"orient": "left", "offset": -17, "values": [0, 20, 40, 60, 80, 100, 120, 140], "tickSize": -5, "labelPadding": 24, "title": "Moment (A.m².g⁻¹)", "titleX": -44, "titleY": 172, "titleAngle": 270, "titleAlign": "center", "titleBaseline": "alphabetic"}},
            "color": {"field": "s", "type": "nominal",
              "scale": {"domain": ["exp", "fit", "d1", "d2"], "range": ["#2f52a0", "#c55a2a", "#8c8c8c", "#d4a017"]},
              "legend": {
                "orient": "none", "legendX": 213, "legendY": 216, "values": ["exp", "fit"], "title": null, "padding": 0,
                "symbolType": "circle", "symbolSize": 40, "symbolOpacity": 1,
                "labelFont": "Lato", "labelFontSize": 19, "labelFontWeight": "bold", "labelColor": "#1a1a1a",
                "labelOffset": 3, "rowPadding": 12, "labelLimit": 400,
                "labelExpr": "datum.value === 'exp' ? 'Experimental moment' : '\u00a0Total FIT moment'"
              }
            }
          }
        },
        {
          "transform": [{"filter": "datum.s === 'd2' && datum.T === 2"}],
          "mark": {"type": "rect", "color": "#000000"},
          "encoding": {"x": {"datum": 84.53, "type": "quantitative"}, "x2": {"datum": 87.66}, "y": {"datum": 144.8, "type": "quantitative"}, "y2": {"datum": 133.6}}
        },
        {
          "transform": [{"filter": "datum.s === 'd2' && datum.T === 2"}],
          "mark": {"type": "text", "color": "#ffffff", "font": "Lato", "fontSize": 15, "fontWeight": "bold", "align": "center", "baseline": "middle"},
          "encoding": {"x": {"datum": 86.1, "type": "quantitative"}, "y": {"datum": 139.2, "type": "quantitative"}, "text": {"value": "B"}}
        }
      ]
    }
  ]
}
